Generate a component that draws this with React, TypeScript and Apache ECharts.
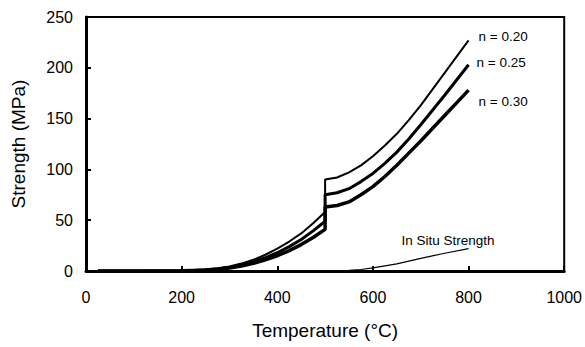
import React, { useEffect, useRef } from "react";
import * as echarts from "echarts";

const temps = [25, 100, 200, 225, 250, 275, 300, 325, 350, 375, 400, 425, 450, 475, 500,
  500, 525, 550, 575, 600, 625, 650, 675, 700, 725, 750, 775, 800];
const n020 = [0, 0, 0.5, 1, 1.7, 2.8, 4.5, 7.3, 11, 16, 22, 29, 37, 47, 58,
  90, 92, 97, 104, 113, 123.5, 135, 148.5, 163, 179, 195, 211, 227];
const n025 = [0, 0, 0.3, 0.6, 1, 2, 3.5, 6, 9, 13, 18, 24, 31, 39.5, 49,
  75, 77, 81, 88, 96, 106, 117, 130, 144, 158.5, 173, 188, 203];
const n030 = [0, 0, 0.2, 0.5, 0.8, 1.7, 3, 5, 7.5, 11, 15, 20, 26, 33, 41,
  63, 64.5, 68, 75, 83, 93, 104, 116, 128, 140.5, 153, 165.5, 178];
const inSituTemps = [500, 525, 550, 575, 600, 650, 700, 750, 800];
const inSitu = [0, 0.2, 0.6, 1.5, 3, 7, 12.5, 17.5, 22];
const xTicks = [0, 200, 400, 600, 800, 1000];
const yTicks = [0, 50, 100, 150, 200, 250];

const FONT = "Liberation Sans";

export default function App() {
  const ref = useRef<HTMLDivElement>(null);
  useEffect(() => {
    const chart = echarts.init(ref.current!, null, { renderer: "svg" });
    const mk = (xs: number[], ys: number[]) => xs.map((x, i) => [x, ys[i]]);
    chart.setOption({
      animation: false,
      backgroundColor: "#fff",
      grid: {
        left: 86, top: 17, right: 19, bottom: 76,
        show: true, borderColor: "#000", borderWidth: 2,
      },
      xAxis: {
        type: "value", min: xTicks[0], max: xTicks[xTicks.length - 1], interval: 200,
        name: "Temperature (°C)", nameLocation: "middle", nameGap: 50,
        nameTextStyle: { fontFamily: FONT, fontSize: 19, color: "#000" },
        axisLine: { show: true, lineStyle: { color: "#000", width: 3 } },
        axisTick: { show: true, inside: true, length: 5, lineStyle: { color: "#000", width: 2 } },
        axisLabel: { fontFamily: FONT, fontSize: 16, color: "#000", margin: 18, formatter: (v: number) => String(v) },
        splitLine: { show: false },
      },
      yAxis: {
        type: "value", min: yTicks[0], max: yTicks[yTicks.length - 1], interval: 50,
        name: "Strength (MPa)", nameLocation: "middle", nameGap: 58,
        nameTextStyle: { fontFamily: FONT, fontSize: 19, color: "#000" },
        axisLine: { show: true, lineStyle: { color: "#000", width: 3 } },
        axisTick: { show: true, inside: true, length: 5, lineStyle: { color: "#000", width: 2 } },
        axisLabel: { fontFamily: FONT, fontSize: 16, color: "#000", margin: 13 },
        splitLine: { show: false },
      },
      series: [
        {
          name: "n = 0.20", type: "line", data: mk(temps, n020), showSymbol: false,
          lineStyle: { color: "#000", width: 2 },
          endLabel: { show: true, formatter: "{a}", fontFamily: FONT, fontSize: 13.5, color: "#000", offset: [2, -4] },
        },
        {
          name: "n = 0.25", type: "line", data: mk(temps, n025), showSymbol: false,
          lineStyle: { color: "#000", width: 3 },
          endLabel: { show: true, formatter: "{a}", fontFamily: FONT, fontSize: 13.5, color: "#000", offset: [0, -2] },
        },
        {
          name: "n = 0.30", type: "line", data: mk(temps, n030), showSymbol: false,
          lineStyle: { color: "#000", width: 3.5 },
          endLabel: { show: true, formatter: "{a}", fontFamily: FONT, fontSize: 13.5, color: "#000", offset: [2, 11] },
        },
        {
          name: "In Situ Strength", type: "line", data: mk(inSituTemps, inSitu), showSymbol: false,
          lineStyle: { color: "#000", width: 1.2 },
          endLabel: { show: true, formatter: "{a}", fontFamily: FONT, fontSize: 13.5, color: "#000", align: "right", offset: [18, -8] },
        },
      ],
    });
    return () => chart.dispose();
  }, []);
  return <div ref={ref} style={{ position: "absolute", left: 0, top: 0, width: 585, height: 347 }} />;
}
